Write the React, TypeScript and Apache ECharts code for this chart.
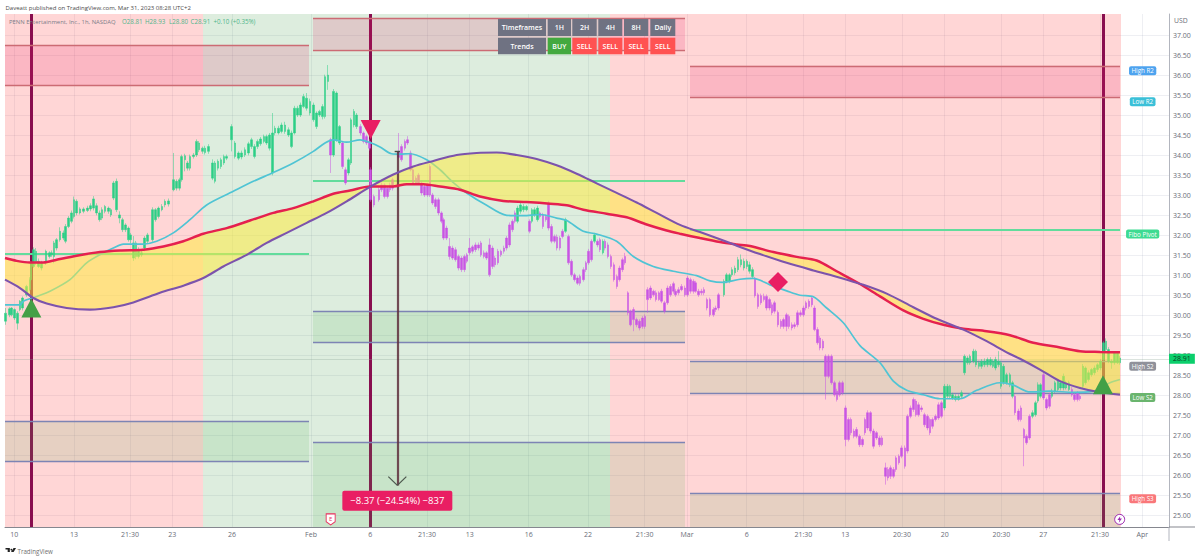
import React, { useEffect, useRef } from "react";
import * as echarts from "echarts";

// time scale: t counts thirds of one session slot, ticks are where the labels stand
const timeTicks = [43, 222, 390, 517, 696, 933, 1111, 1281, 1409, 1586, 1764, 1934, 2061, 2240, 2410, 2536, 2706, 2834, 3004, 3130, 3300, 3427];
const timeLabels = ["10", "13", "21:30", "23", "26", "Feb", "6", "21:30", "13", "16", "22", "21:30", "Mar", "6", "21:30", "13", "20:30", "20", "20:30", "27", "21:30", "Apr"];
const priceTicks = [25, 25.5, 26, 26.5, 27, 27.5, 28, 28.5, 29, 29.5, 30, 30.5, 31, 31.5, 32, 32.5, 33, 33.5, 34, 34.5, 35, 35.5, 36, 36.5, 37];

// [t, open, close, low, high]
const greenBars = [
  [17, 29.85, 30.05, 29.76, 30.18], [28, 30.01, 30.16, 29.95, 30.2], [35, 30.01, 30.18, 29.97, 30.2], [44, 29.93, 30.14, 29.88, 30.17], [52, 29.8, 30.05, 29.64, 30.1],
  [60, 30.14, 30.35, 30.1, 30.38], [68, 30.18, 30.43, 30.12, 30.47], [80, 30.51, 30.72, 30.46, 30.76], [90, 30.64, 30.89, 30.6, 30.95], [93, 30.89, 31.31, 30.85, 31.36],
  [100, 31.22, 31.64, 31.18, 31.7], [108, 31.31, 31.6, 31.26, 31.68], [115, 31.22, 31.35, 31.18, 31.42], [125, 31.18, 31.31, 31.12, 31.36], [138, 31.31, 31.6, 31.26, 31.64],
  [148, 31.47, 31.56, 31.42, 31.6], [155, 31.51, 31.56, 31.46, 31.62], [162, 31.47, 31.81, 31.3, 31.86], [170, 31.68, 31.89, 31.62, 31.93], [180, 31.89, 32.1, 31.84, 32.2],
  [190, 31.93, 32.06, 31.88, 32.12], [196, 31.85, 32.22, 31.8, 32.28], [205, 32.22, 32.43, 32.18, 32.48], [215, 32.35, 32.56, 32.3, 32.62], [222, 32.47, 32.89, 32.42, 32.97],
  [230, 32.56, 32.85, 32.5, 32.9], [240, 32.56, 32.66, 32.52, 32.7], [250, 32.6, 32.66, 32.55, 32.7], [262, 32.62, 32.68, 32.58, 32.74], [272, 32.66, 32.74, 32.6, 32.8],
  [281, 32.68, 32.91, 32.62, 32.98], [290, 32.56, 32.74, 32.5, 32.8], [298, 32.39, 32.56, 32.34, 32.62], [306, 32.43, 32.64, 32.38, 32.7], [315, 32.6, 32.72, 32.55, 32.76],
  [325, 32.6, 32.68, 32.54, 32.72], [333, 32.51, 32.64, 32.46, 32.68], [340, 32.93, 33.31, 32.88, 33.36], [349, 32.64, 33.35, 32.58, 33.42], [358, 32.43, 32.51, 32.3, 32.6],
  [367, 32.14, 32.39, 32.08, 32.44], [376, 32.14, 32.26, 32.08, 32.3], [385, 31.89, 32.18, 31.84, 32.22], [392, 31.89, 32.01, 31.8, 32.06], [400, 31.43, 31.81, 31.36, 31.98],
  [408, 31.47, 31.81, 31.4, 31.86], [415, 31.47, 31.64, 31.42, 31.7], [424, 31.51, 31.56, 31.46, 31.62], [433, 31.68, 31.93, 31.6, 31.98], [442, 31.85, 32.01, 31.78, 32.06],
  [458, 31.89, 32.64, 31.84, 32.7], [466, 32.39, 32.64, 32.34, 32.68], [476, 32.47, 32.68, 32.42, 32.72], [486, 32.64, 32.72, 32.6, 32.78], [495, 32.76, 32.85, 32.7, 32.9],
  [505, 32.78, 32.86, 32.72, 32.92], [520, 33.14, 33.39, 33.1, 34.06], [530, 33.18, 33.35, 33.12, 33.4], [538, 33.18, 33.39, 33.12, 33.44], [545, 33.39, 33.97, 33.34, 34.02],
  [555, 33.89, 33.99, 33.6, 34.04], [562, 33.68, 33.81, 33.62, 33.86], [570, 33.68, 33.97, 33.62, 34.02], [580, 33.97, 34.01, 33.92, 34.06], [589, 34.01, 34.35, 33.96, 34.4],
  [597, 34.14, 34.31, 34.08, 34.36], [607, 34.1, 34.18, 34.04, 34.22], [615, 34.07, 34.18, 34.02, 34.24], [625, 34.1, 34.22, 34.04, 34.28], [637, 33.43, 33.81, 33.38, 33.9],
  [645, 33.35, 33.81, 33.3, 33.86], [654, 33.68, 33.85, 33.62, 33.9], [663, 33.72, 33.89, 33.66, 33.94], [672, 33.81, 33.97, 33.76, 34.02], [680, 33.93, 33.97, 33.88, 34.02],
  [695, 34.39, 34.72, 34.1, 34.78], [705, 33.97, 34.31, 33.92, 34.36], [715, 33.93, 34.06, 33.88, 34.1], [725, 33.96, 34.06, 33.9, 34.12], [735, 34.01, 34.14, 33.96, 34.2],
  [745, 34.06, 34.29, 34.0, 34.34], [754, 34.22, 34.39, 34.16, 34.44], [763, 33.97, 34.22, 33.92, 34.28], [772, 34.22, 34.35, 34.16, 34.4], [782, 34.29, 34.41, 34.24, 34.46],
  [792, 34.35, 34.47, 34.3, 34.52], [800, 34.31, 34.47, 34.26, 34.52], [808, 34.18, 34.51, 34.12, 34.56], [817, 33.56, 34.56, 33.5, 35.06], [825, 34.56, 34.68, 34.5, 34.74],
  [835, 34.56, 34.68, 34.52, 34.74], [845, 34.6, 34.76, 34.55, 34.82], [855, 34.6, 34.76, 34.54, 34.84], [865, 34.51, 34.64, 34.46, 34.7], [875, 34.22, 34.56, 34.18, 34.62],
  [883, 34.56, 35.18, 34.52, 35.24], [893, 35.01, 35.18, 34.96, 35.24], [902, 35.01, 35.26, 34.96, 35.32], [911, 35.22, 35.47, 35.18, 35.54], [920, 35.18, 35.43, 35.12, 35.56],
  [930, 35.06, 35.35, 35.0, 35.42], [940, 34.89, 35.26, 34.84, 35.32], [949, 34.72, 35.06, 34.66, 35.1], [958, 35.01, 35.1, 34.96, 35.14], [967, 34.97, 35.22, 34.9, 35.28],
  [975, 34.97, 35.97, 34.92, 36.02], [984, 35.85, 36.01, 35.64, 36.26], [1001, 34.01, 35.6, 33.96, 35.66], [1009, 34.39, 35.56, 34.34, 35.6], [1018, 34.31, 34.72, 34.26, 34.76],
  [1045, 33.56, 33.89, 33.5, 33.94], [1053, 33.81, 34.89, 33.76, 34.94], [1062, 34.76, 35.1, 34.7, 35.16], [1070, 34.72, 35.01, 34.66, 35.06],
  [1553, 32.35, 32.68, 32.3, 32.74], [1561, 32.6, 32.76, 32.54, 32.82], [1570, 32.64, 32.72, 32.58, 32.78], [1579, 32.64, 32.72, 32.6, 32.76],
  [1596, 32.35, 32.64, 32.3, 32.68], [1604, 32.51, 32.64, 32.46, 32.7], [1612, 32.39, 32.68, 32.34, 32.74], [1697, 32.1, 32.39, 32.06, 32.44], [1783, 31.85, 32.01, 31.8, 32.06], [1809, 31.56, 31.85, 31.52, 31.9],
  [2172, 30.51, 30.85, 30.46, 30.9], [2180, 30.85, 31.01, 30.8, 31.06], [2188, 30.85, 31.01, 30.8, 31.05], [2196, 31.01, 31.14, 30.96, 31.2], [2205, 31.06, 31.18, 31.0, 31.24],
  [2214, 31.14, 31.39, 31.08, 31.46], [2223, 31.26, 31.39, 31.2, 31.52], [2232, 31.18, 31.35, 31.12, 31.42], [2241, 31.22, 31.35, 31.16, 31.4], [2249, 31.1, 31.26, 31.04, 31.34], [2257, 30.97, 31.14, 30.92, 31.2],
  [2833, 27.68, 28.22, 27.62, 28.28], [2842, 27.97, 28.22, 27.92, 28.28], [2850, 27.97, 28.22, 27.9, 28.26], [2858, 27.93, 28.01, 27.88, 28.06], [2867, 27.89, 27.97, 27.84, 28.02], [2876, 27.89, 27.97, 27.86, 28.02], [2885, 27.97, 28.06, 27.92, 28.12],
  [2893, 28.56, 28.97, 28.5, 29.02], [2902, 28.81, 28.93, 28.76, 28.98], [2910, 28.81, 28.97, 28.76, 29.02], [2920, 28.85, 29.1, 28.8, 29.16], [2928, 28.76, 29.1, 28.7, 29.14],
  [2937, 28.72, 28.81, 28.66, 28.86], [2945, 28.72, 28.85, 28.66, 28.9], [2953, 28.76, 28.85, 28.7, 28.92], [2962, 28.76, 28.89, 28.7, 28.94], [2971, 28.76, 28.89, 28.72, 28.95],
  [2979, 28.72, 28.85, 28.68, 28.9], [2987, 28.68, 28.89, 28.62, 28.96], [2995, 28.76, 28.85, 28.7, 29.1], [3003, 28.22, 28.81, 28.16, 28.86], [3011, 28.31, 28.72, 28.26, 28.78],
  [3019, 28.31, 28.51, 28.26, 28.56], [3030, 28.26, 28.51, 28.2, 28.56], [3038, 27.97, 28.31, 27.92, 28.36],
  [3097, 27.47, 27.56, 27.42, 27.62], [3106, 27.51, 27.81, 27.46, 27.86], [3114, 27.85, 28.26, 27.8, 28.32], [3122, 27.97, 28.26, 27.92, 28.3],
  [3156, 27.97, 28.1, 27.92, 28.16], [3165, 28.1, 28.31, 28.05, 28.36], [3174, 28.14, 28.35, 28.1, 28.4], [3182, 28.18, 28.31, 28.12, 28.36], [3190, 28.18, 28.47, 28.12, 28.54], [3198, 28.18, 28.31, 28.14, 28.36], [3207, 28.14, 28.31, 28.1, 28.36],
  [3249, 28.22, 28.72, 28.18, 28.78], [3257, 28.31, 28.68, 28.26, 28.72], [3266, 28.39, 28.56, 28.34, 28.62], [3275, 28.51, 28.64, 28.46, 28.68], [3284, 28.56, 28.68, 28.5, 28.74],
  [3293, 28.64, 28.76, 28.58, 28.8], [3301, 28.68, 28.85, 28.62, 28.9], [3310, 28.89, 29.31, 28.84, 29.36], [3318, 29.14, 29.35, 29.08, 29.42], [3326, 28.85, 29.14, 28.8, 29.2],
  [3335, 28.81, 28.85, 28.66, 28.9], [3344, 28.81, 29.06, 28.76, 29.1], [3352, 28.81, 29.06, 28.78, 29.1], [3360, 28.81, 28.93, 28.76, 28.98],
];

const purpleBars = [
  [992, 34.01, 34.39, 33.56, 34.44], [1027, 33.72, 34.31, 33.66, 34.36], [1037, 33.31, 33.64, 33.26, 33.7], [1082, 34.56, 34.72, 34.5, 34.78], [1090, 34.35, 34.56, 34.3, 34.6],
  [1100, 34.31, 34.47, 34.26, 34.52], [1108, 34.18, 34.35, 34.12, 34.4], [1112, 32.89, 33.64, 32.84, 33.7], [1122, 32.76, 32.97, 32.7, 33.02], [1137, 32.89, 33.14, 32.84, 33.2],
  [1145, 33.14, 33.26, 33.08, 33.32], [1153, 32.97, 33.26, 32.92, 33.3], [1162, 32.97, 33.18, 32.92, 33.24], [1170, 33.14, 33.26, 33.08, 33.32], [1178, 33.18, 33.39, 33.12, 33.44],
  [1196, 33.95, 34.1, 33.9, 34.56], [1204, 33.89, 34.22, 33.84, 34.28], [1215, 34.18, 34.35, 34.12, 34.4], [1222, 34.31, 34.39, 34.26, 34.48], [1231, 33.64, 34.06, 33.6, 34.12],
  [1239, 33.31, 33.64, 33.26, 33.7], [1248, 33.31, 33.43, 33.26, 33.48], [1256, 33.31, 33.51, 33.26, 33.56], [1265, 33.06, 33.31, 33.0, 33.36], [1274, 33.01, 33.22, 32.96, 33.28],
  [1282, 33.01, 33.26, 32.96, 33.3], [1290, 33.01, 33.72, 32.96, 33.78], [1298, 32.81, 33.01, 32.76, 33.06], [1307, 32.72, 32.89, 32.66, 32.94], [1315, 32.56, 32.89, 32.5, 32.94],
  [1324, 32.35, 32.56, 32.3, 32.6], [1331, 31.93, 32.39, 31.88, 32.44], [1340, 31.93, 32.18, 31.88, 32.24], [1348, 31.47, 31.72, 31.39, 31.93], [1358, 31.43, 31.68, 31.38, 31.74],
  [1366, 31.39, 31.64, 31.34, 31.7], [1376, 31.18, 31.47, 31.12, 31.52], [1384, 31.14, 31.43, 31.08, 31.48], [1393, 31.14, 31.47, 31.08, 31.52], [1401, 31.35, 31.51, 31.3, 31.56],
  [1409, 31.56, 31.68, 31.5, 31.93], [1418, 31.6, 31.71, 31.54, 31.76], [1427, 31.64, 31.76, 31.58, 31.82], [1435, 31.68, 31.76, 31.62, 31.82], [1443, 31.51, 31.81, 31.46, 31.86],
  [1452, 31.47, 31.56, 31.42, 31.62], [1460, 31.43, 31.56, 31.38, 31.6], [1468, 31.01, 31.76, 30.96, 31.92], [1477, 31.22, 31.68, 31.16, 31.74], [1485, 31.26, 31.43, 31.2, 31.48],
  [1494, 31.31, 31.6, 31.26, 31.66], [1503, 31.51, 31.6, 31.46, 31.64], [1512, 31.6, 31.68, 31.54, 31.74], [1520, 31.68, 31.93, 31.62, 31.98], [1529, 31.76, 32.26, 31.7, 32.32],
  [1537, 32.14, 32.35, 32.08, 32.4], [1545, 32.35, 32.56, 32.3, 32.62], [1588, 32.1, 32.35, 32.05, 32.4], [1620, 32.47, 32.56, 32.42, 32.6], [1629, 32.22, 32.51, 32.16, 32.56],
  [1638, 32.39, 32.47, 32.34, 32.52], [1646, 32.18, 32.81, 32.12, 32.86], [1654, 31.85, 32.22, 31.8, 32.28], [1663, 31.85, 31.97, 31.8, 32.02], [1671, 31.68, 31.96, 31.62, 32.02],
  [1680, 31.68, 31.93, 31.62, 31.98], [1688, 31.97, 32.1, 31.92, 32.16], [1706, 31.31, 31.97, 31.26, 32.02], [1715, 31.01, 31.35, 30.96, 31.4], [1723, 30.89, 31.01, 30.84, 31.06],
  [1732, 30.8, 30.93, 30.76, 30.98], [1740, 30.8, 30.97, 30.74, 31.02], [1750, 30.89, 31.14, 30.84, 31.2], [1758, 31.14, 31.31, 31.08, 31.36], [1766, 31.31, 31.6, 31.26, 31.66],
  [1774, 31.39, 31.85, 31.34, 31.9], [1792, 31.76, 31.85, 31.7, 31.9], [1800, 31.64, 31.89, 31.58, 31.94], [1815, 31.68, 31.85, 31.62, 31.9], [1824, 31.47, 31.76, 31.42, 31.82],
  [1833, 31.22, 31.47, 31.16, 31.52], [1842, 30.89, 31.26, 30.84, 31.32], [1851, 30.72, 30.97, 30.66, 31.02], [1859, 30.89, 31.18, 30.84, 31.24], [1868, 31.14, 31.39, 31.08, 31.44],
  [1875, 31.31, 31.47, 31.26, 31.56], [1884, 30.06, 30.56, 30.0, 30.6], [1892, 29.76, 30.1, 29.72, 30.14], [1901, 29.89, 30.14, 29.6, 30.2], [1910, 29.76, 29.89, 29.7, 29.94],
  [1918, 29.68, 29.85, 29.62, 29.9], [1927, 29.72, 29.93, 29.66, 29.98], [1935, 29.72, 29.97, 29.66, 30.02], [1943, 30.39, 30.64, 30.06, 30.7], [1952, 30.43, 30.68, 30.38, 30.74],
  [1960, 30.51, 30.6, 30.46, 30.64], [1968, 30.39, 30.56, 30.34, 30.62], [1977, 30.39, 30.56, 30.36, 30.6], [1985, 30.35, 30.6, 30.3, 30.66], [1993, 30.1, 30.31, 30.04, 30.36],
  [2003, 30.31, 30.68, 30.26, 30.74], [2011, 30.51, 30.72, 30.46, 30.78], [2020, 30.6, 30.79, 30.54, 30.84], [2027, 30.51, 30.6, 30.46, 30.66], [2036, 30.56, 30.64, 30.5, 30.7],
  [2045, 30.64, 30.72, 30.6, 30.78], [2055, 30.51, 30.68, 30.46, 30.74], [2063, 30.51, 30.93, 30.46, 30.98], [2072, 30.6, 30.89, 30.54, 30.94], [2080, 30.6, 30.85, 30.54, 30.9],
  [2087, 30.6, 30.81, 30.56, 30.86], [2095, 30.51, 30.6, 30.46, 30.66], [2105, 30.56, 30.6, 30.5, 30.66], [2112, 30.56, 30.64, 30.5, 30.7], [2121, 30.18, 30.39, 30.12, 30.44],
  [2130, 30.01, 30.39, 29.96, 30.44], [2140, 30.01, 30.14, 29.96, 30.2], [2147, 30.14, 30.18, 30.08, 30.24], [2156, 30.18, 30.51, 30.12, 30.56],
  [2265, 30.49, 30.91, 30.44, 30.96], [2274, 30.22, 30.51, 30.16, 30.56], [2283, 30.31, 30.49, 30.26, 30.54], [2292, 30.39, 30.47, 30.34, 30.54], [2300, 30.18, 30.47, 30.12, 30.52],
  [2308, 30.18, 30.39, 30.12, 30.44], [2316, 30.06, 30.26, 30.0, 30.32], [2324, 30.1, 30.31, 30.04, 30.36], [2334, 29.76, 30.07, 29.7, 30.12], [2343, 29.72, 29.85, 29.66, 29.9],
  [2351, 29.72, 29.89, 29.66, 29.94], [2359, 29.72, 30.01, 29.6, 30.06], [2367, 29.72, 29.97, 29.66, 30.02], [2376, 29.68, 29.76, 29.62, 29.82], [2384, 29.72, 29.76, 29.66, 29.82],
  [2393, 29.76, 30.06, 29.7, 30.12], [2402, 30.01, 30.06, 29.96, 30.12], [2410, 30.01, 30.18, 29.96, 30.24], [2418, 30.18, 30.31, 30.12, 30.36], [2427, 30.22, 30.35, 30.16, 30.4],
  [2436, 30.26, 30.43, 30.2, 30.48], [2444, 29.64, 30.18, 29.6, 30.24], [2452, 29.31, 29.64, 29.26, 29.7], [2460, 29.18, 29.43, 29.12, 29.48], [2469, 29.18, 29.35, 29.12, 29.4],
  [2477, 28.47, 28.97, 27.89, 29.02], [2486, 28.47, 28.97, 28.42, 29.02], [2494, 28.31, 28.97, 28.26, 29.02], [2503, 28.01, 28.31, 27.96, 28.36], [2511, 27.89, 28.1, 27.84, 28.16],
  [2519, 28.01, 28.31, 27.96, 28.36], [2528, 28.06, 28.31, 28.0, 28.36], [2537, 26.89, 27.68, 26.72, 27.74], [2545, 26.89, 27.39, 26.84, 27.44], [2553, 27.06, 27.39, 27.0, 27.44],
  [2562, 26.97, 27.1, 26.92, 27.16], [2570, 26.97, 27.14, 26.92, 27.2], [2578, 26.76, 26.97, 26.7, 27.02], [2587, 26.76, 26.89, 26.7, 26.94], [2595, 27.06, 27.39, 27.0, 27.44],
  [2603, 27.18, 27.56, 27.12, 27.62], [2612, 27.1, 27.56, 27.04, 27.6], [2621, 26.72, 27.1, 26.66, 27.16], [2629, 26.93, 27.06, 26.88, 27.1], [2638, 26.76, 26.93, 26.7, 26.98],
  [2646, 26.76, 26.93, 26.72, 26.98], [2656, 25.97, 26.18, 25.76, 26.31], [2664, 25.93, 26.14, 25.86, 26.2], [2672, 25.97, 26.18, 25.9, 26.24], [2680, 25.97, 26.14, 25.92, 26.2],
  [2688, 26.14, 26.43, 26.08, 26.48], [2697, 26.31, 26.47, 26.26, 26.52], [2705, 26.47, 26.68, 26.42, 26.74], [2715, 26.22, 26.68, 26.16, 26.74], [2723, 26.6, 27.47, 26.54, 27.52],
  [2732, 27.47, 27.68, 27.42, 27.74], [2740, 27.64, 27.89, 27.58, 27.94], [2748, 27.51, 27.85, 27.46, 27.9], [2756, 27.51, 27.76, 27.46, 27.82], [2765, 27.64, 27.68, 27.58, 27.74],
  [2774, 27.26, 27.51, 27.2, 27.56], [2782, 27.18, 27.47, 27.12, 27.52], [2790, 27.06, 27.39, 27.0, 27.44], [2798, 27.22, 27.39, 27.16, 27.44], [2807, 27.39, 27.47, 27.34, 27.52],
  [2815, 27.43, 27.76, 27.38, 27.82], [2824, 27.47, 27.81, 27.42, 27.86],
  [3045, 27.56, 27.97, 27.5, 28.02], [3055, 27.39, 27.6, 27.34, 27.66], [3063, 27.39, 27.68, 27.34, 27.74], [3072, 26.93, 27.14, 26.22, 27.18], [3080, 26.81, 26.97, 26.76, 27.02],
  [3089, 26.93, 27.47, 26.88, 27.52], [3131, 27.93, 28.51, 27.88, 28.56], [3140, 27.68, 27.89, 27.62, 27.94], [3148, 27.72, 28.01, 27.66, 28.06],
  [3216, 28.01, 28.14, 27.96, 28.2], [3224, 27.89, 28.01, 27.84, 28.06], [3232, 27.89, 28.06, 27.84, 28.1], [3240, 27.91, 27.97, 27.86, 28.02],
];

const cyanLine = [
  [15, 30.26], [60, 30.26], [70, 30.35], [110, 30.47], [150, 30.6], [210, 30.89], [260, 31.31], [310, 31.56], [340, 31.68], [370, 31.78], [430, 31.78], [470, 31.85], [520, 32.06], [570, 32.39], [620, 32.76],
  [700, 33.1], [760, 33.35], [820, 33.57], [880, 33.81], [940, 34.1], [975, 34.31], [1000, 34.39], [1040, 34.33], [1080, 34.39], [1110, 34.32], [1140, 34.21], [1175, 34.04], [1200, 34.03], [1230, 34.04],
  [1280, 33.89], [1320, 33.64], [1360, 33.32], [1400, 33.06], [1460, 32.75], [1520, 32.5], [1570, 32.49], [1620, 32.52], [1670, 32.43], [1700, 32.37], [1750, 32.1], [1790, 32.03], [1850, 31.85],
  [1900, 31.47], [1960, 31.22], [2020, 31.1], [2090, 30.99], [2130, 30.86], [2170, 30.82], [2220, 30.9], [2260, 30.92], [2310, 30.76], [2360, 30.61], [2400, 30.5], [2440, 30.46], [2480, 30.18],
  [2530, 29.81], [2580, 29.24], [2640, 28.81], [2680, 28.35], [2720, 28.12], [2770, 28.01], [2820, 27.91], [2880, 27.91], [2930, 28.12], [3000, 28.31], [3040, 28.25], [3090, 28.08], [3150, 28.1],
  [3220, 28.07], [3280, 28.1], [3330, 28.31], [3360, 28.39],
];

const redLine = [
  [15, 31.43], [50, 31.36], [90, 31.32], [130, 31.32], [170, 31.39], [230, 31.49], [300, 31.58], [360, 31.62], [430, 31.64], [490, 31.72], [550, 31.85], [610, 32.04], [680, 32.18], [750, 32.37], [820, 32.56],
  [880, 32.68], [940, 32.85], [1000, 33.04], [1050, 33.12], [1110, 33.22], [1180, 33.22], [1220, 33.28], [1270, 33.28], [1320, 33.22], [1380, 33.14], [1440, 32.97], [1510, 32.86], [1580, 32.83],
  [1650, 32.79], [1700, 32.75], [1750, 32.64], [1820, 32.54], [1880, 32.45], [1940, 32.27], [2000, 32.12], [2040, 32.04], [2100, 31.93], [2160, 31.83], [2210, 31.77], [2250, 31.73], [2320, 31.58], [2390, 31.46],
  [2450, 31.37], [2510, 31.1], [2580, 30.78], [2640, 30.47], [2710, 30.12], [2770, 29.91], [2830, 29.76], [2890, 29.66], [2960, 29.6], [3030, 29.5], [3100, 29.31], [3170, 29.21], [3240, 29.1], [3300, 29.08], [3360, 29.07],
];

const violetLine = [
  [15, 30.89], [60, 30.68], [100, 30.43], [140, 30.29], [200, 30.18], [270, 30.14], [340, 30.2], [400, 30.32], [480, 30.56], [550, 30.74], [610, 30.93], [670, 31.22], [740, 31.51], [800, 31.81], [860, 32.06],
  [920, 32.31], [980, 32.56], [1040, 32.85], [1110, 33.21], [1180, 33.52], [1240, 33.72], [1300, 33.86], [1370, 34.01], [1430, 34.06], [1490, 34.07], [1550, 34.01], [1610, 33.91], [1670, 33.75], [1730, 33.54],
  [1790, 33.3], [1850, 33.06], [1910, 32.82], [1970, 32.56], [2040, 32.26], [2100, 32.08], [2170, 31.87], [2210, 31.74], [2280, 31.53], [2360, 31.31], [2440, 31.12], [2520, 30.94], [2590, 30.76], [2660, 30.54],
  [2740, 30.2], [2810, 29.91], [2890, 29.64], [2960, 29.35], [3020, 29.07], [3060, 28.91], [3120, 28.64], [3180, 28.35], [3240, 28.18], [3300, 28.07], [3360, 28.01],
];

// background periods [from, to]
const redZones = [[15, 609], [1830, 3363]];
const greenZones = [[609, 1830]];
// pivot periods [from, to, upper, lower]
const r2Bands = [[15, 927, 36.75, 35.75], [939, 2055, 37.42, 36.64], [2070, 3360, 36.24, 35.45]];
const s2Bands = [[15, 927, 27.34, 26.35], [939, 2055, 30.09, 29.32], [2070, 3360, 28.84, 28.05]];
const s3Bands = [[939, 2055, 26.81, 24.7], [2070, 3360, 25.54, 24.7]];
const fiboLines = [[15, 927, 31.55], [939, 2055, 33.36], [2070, 3360, 32.15]];
const signalTimes = [94, 1112, 3309];
const buyMarks = [[94, 30.18], [3309, 28.26]];
const sellMarks = [[1112, 34.65]];
const diamondMarks = [[2334, 30.83]];
const lastPrice = 28.91;
const pinLabels = [
  { name: "High R2", price: 36.12, color: "#4da3ef" },
  { name: "Low R2", price: 35.34, color: "#3bc0d8" },
  { name: "Fibo Pivot", price: 32.03, color: "#3ddb92" },
  { name: "High S2", price: 28.72, color: "#90919a" },
  { name: "Low S2", price: 27.94, color: "#6ab56e" },
  { name: "High S3", price: 25.41, color: "#f9777a" },
];
const measure = { t: 1192, from: 34.11, to: 25.74, text: "\u22128.37 (\u221224.54%) \u2212837" };
const tableHeads = ["Timeframes", "1H", "2H", "4H", "8H", "Daily"];
const tableTrends = ["Trends", "BUY", "SELL", "SELL", "SELL", "SELL"];
const title = "Daveatt published on TradingView.com, Mar 31, 2023 08:28 UTC+2";
const legendName = "PENN Entertainment, Inc., 1h, NASDAQ";
const legendValues = ["O28.81", "H28.93", "L28.80", "C28.91", "+0.10 (+0.35%)"];

echarts.graphic.registerShape(
  "tvlogo",
  echarts.graphic.extendPath("M0 0h7v6.5h-3.5V2.5H0z M9.4 1.4a1.3 1.3 0 1 0 0.01 0z M13 0h4l-3.9 6.5h-4.2z", {})
);

const FONT = "Open Sans";
const GREEN = "#2ccf86";
const MAGENTA = "#c955e4";

function candle(name: string, color: string, data: number[][]) {
  return {
    type: "candlestick", name, data, z: 3, barWidth: 2,
    itemStyle: { color, color0: color, borderColor: color, borderColor0: color, borderColorDoji: color, borderWidth: 0.5 },
  };
}
function curve(name: string, color: string, width: number, data: number[][], z: number) {
  return { type: "line", name, data, z, showSymbol: false, symbol: "none", smooth: 0.3, lineStyle: { color, width }, itemStyle: { color } };
}
function seg(x1: number, y1: number, x2: number, y2: number, color: string, width: number) {
  return [{ coord: [x1, y1], lineStyle: { color, width, type: "solid" } }, { coord: [x2, y2] }];
}

function tableGraphics() {
  const xs = [[498, 48], [547.7, 23.3], [572.3, 24.4], [598.3, 24], [624, 24.3], [650.3, 25]];
  const out: any[] = [];
  tableHeads.forEach((h, i) => {
    const [x, w] = xs[i];
    out.push({ type: "rect", shape: { x, y: 19, width: w, height: 17 }, style: { fill: "#6f7282" }, z: 50 });
    out.push({ type: "text", x: x + w / 2, y: 27.5, style: { text: h, fill: "#fff", font: `600 7px "${FONT}"`, align: "center", verticalAlign: "middle" }, z: 51 });
    const tr = tableTrends[i];
    const fill = tr === "BUY" ? "#43a93f" : tr === "SELL" ? "#ff5252" : "#6f7282";
    out.push({ type: "rect", shape: { x, y: 37.7, width: w, height: 16.6 }, style: { fill }, z: 50 });
    out.push({ type: "text", x: x + w / 2, y: 46, style: { text: tr, fill: "#fff", font: `600 7px "${FONT}"`, align: "center", verticalAlign: "middle" }, z: 51 });
  });
  return out;
}

export default function App() {
  const ref = useRef<HTMLDivElement>(null);
  useEffect(() => {
    const chart = echarts.init(ref.current!, undefined, { renderer: "svg" });
    const legendXs = [122, 145, 169, 190.5, 213.5];
    chart.setOption({
      animation: false,
      backgroundColor: "#fff",
      grid: { left: 5, right: 31, top: 14, bottom: 33 },
      xAxis: {
        type: "value", min: 15, max: 3507,
        axisLine: { show: true, lineStyle: { color: "#85878f", width: 1 } },
        axisTick: { show: false, customValues: timeTicks },
        splitLine: { show: true, lineStyle: { color: "rgba(120,135,165,0.13)", width: 1 } },
        axisLabel: {
          customValues: timeTicks, hideOverlap: false, margin: 4, fontSize: 7, color: "#6a6d78", fontFamily: FONT,
          formatter: (v: number) => timeLabels[timeTicks.indexOf(v)] ?? "",
        },
      },
      yAxis: {
        type: "value", position: "right", min: 24.7, max: 37.5375, scale: true,
        axisLine: { show: true, lineStyle: { color: "#b2b5be", width: 1 } },
        axisTick: { show: false, customValues: priceTicks },
        splitLine: { show: true, lineStyle: { color: "rgba(120,135,165,0.13)", width: 1 } },
        axisLabel: {
          customValues: priceTicks, hideOverlap: false, margin: 4, fontSize: 7, color: "#6a6d78", fontFamily: FONT,
          formatter: (v: number) => v.toFixed(2),
        },
      },
      series: [
        {
          type: "line", name: "zones", data: [], z: 1,
          markArea: {
            silent: true, z: 0.5,
            data: [
              ...redZones.map(([a, b]) => [{ coord: [a, 24.7], itemStyle: { color: "rgba(255,82,82,0.24)" } }, { coord: [b, 37.5375] }]),
              ...greenZones.map(([a, b]) => [{ coord: [a, 24.7], itemStyle: { color: "rgba(76,160,80,0.19)" } }, { coord: [b, 37.5375] }]),
            ],
          },
          markLine: {
            silent: true, z: 0.8, symbol: "none", label: { show: false },
            data: [
              ...signalTimes.map((t) => seg(t, 24.7, t, 37.5375, "#880e4f", 3)),
              seg(15, lastPrice, 3507, lastPrice, "rgba(140,165,150,0.45)", 0.7),
            ],
          },
        },
        {
          type: "line", name: "bands", data: [], z: 1,
          markArea: {
            silent: true, z: 1,
            data: [
              ...r2Bands.map(([a, b, u, l]) => [{ coord: [a, u], itemStyle: { color: "rgba(233,30,99,0.17)" } }, { coord: [b, l] }]),
              ...s2Bands.map(([a, b, u, l]) => [{ coord: [a, u], itemStyle: { color: "rgba(76,175,80,0.14)" } }, { coord: [b, l] }]),
              ...s3Bands.map(([a, b, u, l]) => [{ coord: [a, u], itemStyle: { color: "rgba(76,175,80,0.14)" } }, { coord: [b, l] }]),
            ],
          },
          markLine: {
            silent: true, z: 1.5, symbol: "none", label: { show: false },
            data: [
              ...r2Bands.flatMap(([a, b, u, l]) => [seg(a, u, b, u, "#cc6b74", 1.3), seg(a, l, b, l, "#cc6b74", 1.3)]),
              ...s2Bands.flatMap(([a, b, u, l]) => [seg(a, u, b, u, "#7d84b4", 1.3), seg(a, l, b, l, "#7d84b4", 1.3)]),
              ...s3Bands.map(([a, b, u]) => seg(a, u, b, u, "#7d84b4", 1.3)),
              ...fiboLines.map(([a, b, p]) => seg(a, p, b, p, "#62dc9c", 2)),
            ],
          },
        },
        candle("bull", GREEN, greenBars),
        candle("bear", MAGENTA, purpleBars),
        curve("basis", "#4fc4d4", 1.7, cyanLine, 3.5),
        {
          type: "custom", name: "cloud", z: 4, data: [[15, 31]],
          renderItem: (_p: any, api: any) => {
            const pts = [...redLine, ...[...violetLine].reverse()].map((d) => api.coord(d));
            return { type: "polygon", shape: { points: pts }, style: { fill: "rgba(255,235,59,0.52)" } };
          },
        },
        curve("fast", "#e5204f", 2.5, redLine, 5),
        curve("slow", "#7c53ac", 2.1, violetLine, 5),
        {
          type: "line", name: "measure", data: [], z: 5,
          markLine: {
            silent: true, z: 5, symbol: "none", label: { show: false },
            data: [
              seg(measure.t, measure.from, measure.t, measure.to, "rgba(94,46,60,0.85)", 2.2),
              seg(measure.t - 8, measure.from, measure.t + 8, measure.from, "#444b44", 1.4),
              seg(measure.t - 27, measure.to + 0.22, measure.t, measure.to, "#4b564c", 1.2),
              seg(measure.t + 27, measure.to + 0.22, measure.t, measure.to, "#4b564c", 1.2),
            ],
          },
        },
        { type: "scatter", name: "buy", z: 6, data: buyMarks, symbol: "triangle", symbolSize: [20, 19], itemStyle: { color: "#43a047", opacity: 1 } },
        { type: "scatter", name: "sell", z: 6, data: sellMarks, symbol: "triangle", symbolRotate: 180, symbolSize: [20, 19], itemStyle: { color: "#e91e63", opacity: 1 } },
        { type: "scatter", name: "exit", z: 6, data: diamondMarks, symbol: "diamond", symbolSize: [20, 20], itemStyle: { color: "#e91e63", opacity: 1 } },
        {
          type: "scatter", name: "pins", z: 7, symbolSize: 0, itemStyle: { opacity: 1 },
          data: pinLabels.map((p) => ({
            value: [3428, p.price],
            label: {
              show: true, position: "inside", formatter: p.name, color: "#fff", fontSize: 6.2, fontFamily: FONT,
              backgroundColor: p.color, padding: [1.5, 2.5], borderRadius: 2,
            },
          })),
        },
        {
          type: "scatter", name: "measure label", z: 7, symbolSize: 0, itemStyle: { opacity: 1 },
          data: [{
            value: [measure.t, 25.36],
            label: {
              show: true, position: "inside", formatter: measure.text, color: "#fff", fontSize: 9.5, fontFamily: FONT,
              backgroundColor: "#e91e63", padding: [5, 8], borderRadius: 2,
            },
          }],
        },
        {
          type: "scatter", name: "price tag", z: 9, symbolSize: 0, clip: false, itemStyle: { opacity: 1 },
          data: [{
            value: [3507, lastPrice],
            label: {
              show: true, position: "right", distance: 0, formatter: lastPrice.toFixed(2), color: "#0c3b22", fontSize: 7, fontFamily: FONT,
              backgroundColor: "#0bcf6c", padding: [1.5, 4],
            },
          }],
        },
        {
          type: "scatter", name: "earnings", z: 8, data: [[992, 24.89]],
          symbol: "path://M0 0H10V8.5L5 12L0 8.5Z", symbolSize: [9, 11],
          itemStyle: { color: "#fff", borderColor: "#e9315f", borderWidth: 1, opacity: 1 },
          label: { show: true, position: "inside", formatter: "E", color: "#e9315f", fontSize: 6, fontFamily: FONT },
        },
        {
          type: "scatter", name: "dividends", z: 8, data: [[3359, 24.89]],
          symbol: "circle", symbolSize: 10,
          itemStyle: { color: "#fff", borderColor: "#9c27b0", borderWidth: 1, opacity: 1 },
        },
        {
          type: "scatter", name: "split", z: 8.5, data: [[3359, 24.89]],
          symbol: "path://M6 0L1 7H4.5L3.5 12L9 4.5H5.5Z", symbolSize: [4.5, 6.5],
          itemStyle: { color: "#9c27b0", opacity: 1 },
        },
      ],
      graphic: [
        { type: "text", x: 5.5, y: 7.5, z: 50, style: { text: title, fill: "#4a4a4a", font: `6px "${FONT}"`, verticalAlign: "middle" } },
        { type: "text", x: 9, y: 21.7, z: 50, style: { text: legendName, fill: "#7a7d88", font: `5.9px "${FONT}"`, verticalAlign: "middle" } },
        ...legendValues.map((v, i) => ({ type: "text", x: legendXs[i], y: 21.7, z: 50, style: { text: v, fill: "#4eb58a", font: `6.2px "${FONT}"`, verticalAlign: "middle" } })),
        { type: "text", x: 1174, y: 20.7, z: 50, style: { text: "USD", fill: "#6a6d78", font: `6.8px "${FONT}"`, verticalAlign: "middle" } },
        { type: "line", shape: { x1: 1169, y1: 527, x2: 1169, y2: 541 }, style: { stroke: "#b2b5be", lineWidth: 1 }, z: 50 },
        { type: "line", shape: { x1: 1169, y1: 527, x2: 1195, y2: 527 }, style: { stroke: "#85878f", lineWidth: 1 }, z: 50 },
        { type: "tvlogo", x: 5.5, y: 548, scaleX: 0.62, scaleY: 0.62, style: { fill: "#222" }, z: 50 },
        { type: "text", x: 17.5, y: 551, z: 50, style: { text: "TradingView", fill: "#6f6f6f", font: `6.2px "${FONT}"`, verticalAlign: "middle" } },
        ...tableGraphics(),
      ],
    });
    return () => chart.dispose();
  }, []);
  return <div ref={ref} style={{ position: "absolute", left: 0, top: 0, width: 1200, height: 560 }} />;
}
